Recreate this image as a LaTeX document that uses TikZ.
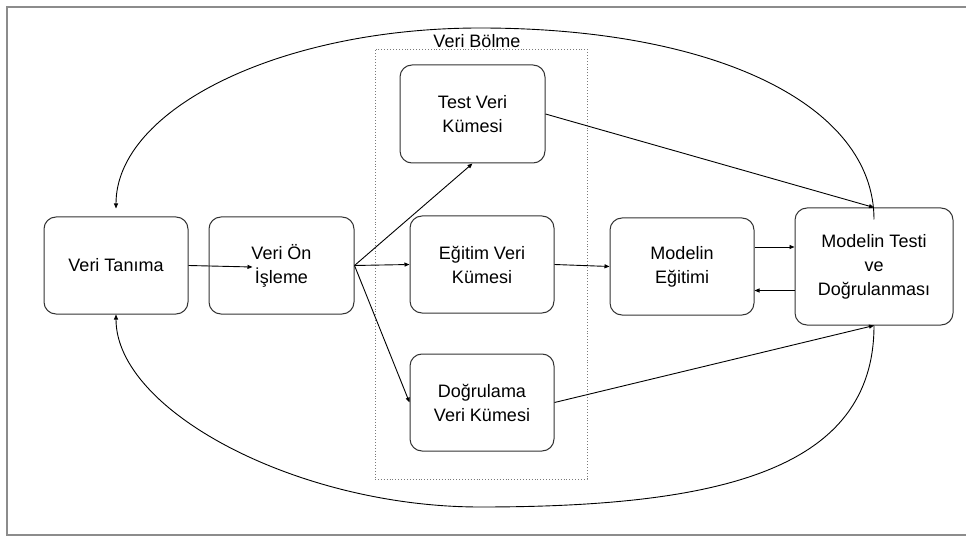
\documentclass[tikz,border=0pt]{standalone}
\usepackage{fontspec}
\setmainfont{Liberation Sans}
\usetikzlibrary{arrows.meta, calc}
\definecolor{cframe}{HTML}{8C8C8C}
\definecolor{cedge}{HTML}{333333}
\definecolor{cdot}{HTML}{7A7A7A}
\tikzset{
  every picture/.style={x=1pt, y=-1pt, line width=0.9pt},
  box/.style={draw=cedge, line width=1pt, rounded corners=12pt, align=center, inner sep=4pt,
    minimum width=144pt, minimum height=97pt, font=\fontsize{18}{24}\selectfont},
  group/.style={draw=cdot, dotted, line width=0.9pt, inner sep=0pt},
  lbl/.style={font=\fontsize{18}{24}\selectfont, inner sep=0pt},
  arr/.style={-{Triangle[length=5pt, width=4pt]}, draw=black},
  frame/.style={draw=cframe, line width=2pt},
}
\begin{document}
\begin{tikzpicture}
  \useasboundingbox (0,0) rectangle (966,537);
  \draw[frame] (7,7) rectangle (968,535);
  % data split container
  \node[group, minimum width=212pt, minimum height=430pt] (vb) at (481,264) {};
  \node[lbl, anchor=base] (vbl) at ([xshift=-4pt, yshift=1pt]vb.north) {Veri Bölme};
  % steps
  \node[box] (vt) at (116,265.5) {Veri Tanıma};
  \node[box, minimum width=145pt] (von) at (281.5,265.5) {Veri Ön\\İşleme};
  \node[box, minimum width=145pt, minimum height=98pt] (tvk) at (472.5,114) {Test Veri\\Kümesi};
  \node[box] (evk) at (482,264.5) {Eğitim Veri\\Kümesi};
  \node[box] (dvk) at (482,402.5) {Doğrulama\\Veri Kümesi};
  \node[box] (me) at (682,266.5) {Modelin\\Eğitimi};
  \node[box, minimum width=158pt, minimum height=117pt] (mtd) at (874,266.5) {Modelin Testi\\ve\\Doğrulanması};
  % helper points
  \coordinate (vonin) at ($(von.west)+(44,1.5)$);
  \coordinate (mea) at ([yshift=19.5pt]me.east);
  \coordinate (mtb) at ([yshift=-24pt]mtd.west);
  \coordinate (top) at (480,28);
  \coordinate (bot) at (480,507);
  % connectors
  \draw[arr] (vt.east) -- (vonin);
  \draw[arr] (von.east) -- (tvk.south);
  \draw[arr] (von.east) -- (evk.west);
  \draw[arr] (von.east) -- (dvk.west);
  \draw[arr] (tvk.east) -- (mtd.north);
  \draw[arr] (dvk.east) -- (mtd.south);
  \draw[arr] (evk.east) -- (me.west);
  \draw[arr] (mea) -- (mea -| mtd.west);
  \draw[arr] (mtb) -- (mtb -| me.east);
  % loops back to the start
  \draw[arr] ([yshift=-12pt]mtd.north) .. controls (874,105) and (716,28) .. (top)
    .. controls (280,28) and (116,109) .. ([yshift=8pt]vt.north);
  \draw[arr] (mtd.south) .. controls (874,470) and (720,507) .. (bot)
    .. controls (298,507) and (116,411) .. (vt.south);
\end{tikzpicture}
\end{document}
